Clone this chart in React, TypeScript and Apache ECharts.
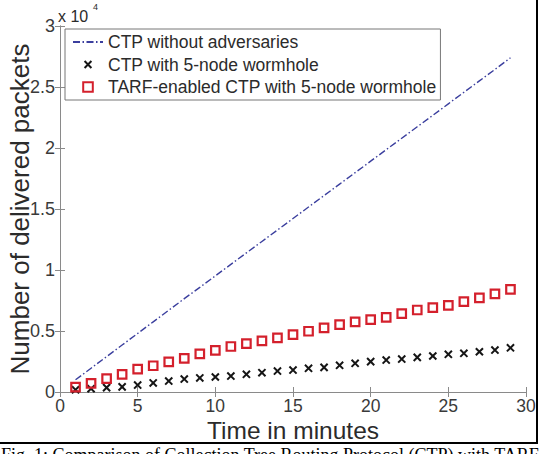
import React, { useEffect, useRef } from "react";
import * as echarts from "echarts";

// Time in minutes (x) for each sample
const minutes = [1, 2, 3, 4, 5, 6, 7, 8, 9, 10, 11, 12, 13, 14, 15, 16, 17, 18, 19, 20, 21, 22, 23, 24, 25, 26, 27, 28, 29];

// Delivered packets per configuration
const ctpNoAdversary = [1000, 1950, 2900, 3850, 4800, 5750, 6700, 7650, 8580, 9520, 10460, 11400, 12340, 13280, 14220, 15160, 16100, 17040, 17980, 18920, 19860, 20800, 21740, 22680, 23620, 24560, 25500, 26440, 27400];
const ctpWormhole = [180, 270, 360, 420, 570, 740, 900, 1060, 1150, 1230, 1310, 1450, 1580, 1720, 1800, 1940, 2020, 2190, 2350, 2490, 2620, 2700, 2840, 2950, 3090, 3170, 3300, 3440, 3620];
const tarfWormhole = [400, 700, 1090, 1440, 1870, 2150, 2470, 2750, 3130, 3410, 3730, 3970, 4190, 4430, 4700, 4980, 5250, 5520, 5740, 5940, 6120, 6420, 6720, 6910, 7100, 7400, 7720, 8050, 8420];

const seriesNames = [
  "CTP without adversaries",
  "CTP with 5-node wormhole",
  "TARF-enabled CTP with 5-node wormhole",
];

const xTicks = { min: 0, max: 30, interval: 5 };
const yTicks = { min: 0, max: 30000, interval: 5000 };
const yScaleLabel = "x 10";
const yScaleExp = "4";
const caption = "Fig. 1: Comparison of Collection Tree Routing Protocol (CTP) with TARF";

const FONT = "Liberation Sans, Arial, sans-serif";
// Cross glyph with a little empty margin so it sits smaller than its symbol box
const CROSS = "path://M-2,-2M0,0L10,10M10,0L0,10M12,12";

export default function App() {
  const ref = useRef<HTMLDivElement>(null);

  useEffect(() => {
    if (!ref.current) return;
    const chart = echarts.init(ref.current, undefined, { renderer: "svg" });
    const pair = (ys: number[]) => minutes.map((m, i) => [m, ys[i]]);
    const boxColor = "#8a8a8a";

    const inwardAxis = {
      axisLine: { show: true, lineStyle: { color: boxColor, width: 1 } },
      axisTick: { show: true, inside: true, length: 5, lineStyle: { color: boxColor } },
      splitLine: { show: false },
    };

    chart.setOption({
      animation: false,
      backgroundColor: "#fff",
      grid: { left: 60, right: 14, top: 26, bottom: 62, show: false, outerBoundsMode: "none", containLabel: false },
      xAxis: [
        {
          type: "value",
          ...xTicks,
          ...inwardAxis,
          name: "Time in minutes",
          nameLocation: "middle",
          nameGap: 27,
          nameMoveOverlap: false,
          nameTextStyle: { fontFamily: FONT, fontSize: 24.5, lineHeight: 22, color: "#2b2b2b" },
          axisLabel: { fontFamily: FONT, fontSize: 17.5, lineHeight: 14, color: "#3a3a3a", margin: 7 },
        },
        {
          type: "value",
          position: "top",
          ...xTicks,
          ...inwardAxis,
          axisLabel: { show: false },
        },
      ],
      yAxis: [
        {
          type: "value",
          ...yTicks,
          ...inwardAxis,
          name: "Number of delivered packets",
          nameLocation: "middle",
          nameGap: 27,
          nameMoveOverlap: false,
          nameTextStyle: { fontFamily: FONT, fontSize: 26, color: "#2b2b2b" },
          axisLabel: {
            fontFamily: FONT,
            fontSize: 18,
            color: "#3a3a3a",
            margin: 5,
            formatter: (v: number) => String(v / 10000),
          },
        },
        {
          type: "value",
          position: "right",
          ...yTicks,
          ...inwardAxis,
          axisLabel: { show: false },
        },
      ],
      legend: {
        orient: "vertical",
        left: 65,
        top: 29,
        padding: [4, 4, 4, 7],
        itemGap: 4.5,
        itemWidth: 30,
        itemHeight: 12,
        borderColor: "#777",
        borderWidth: 1,
        backgroundColor: "#fff",
        textStyle: { fontFamily: FONT, fontSize: 17.5, color: "#2b2b2b", lineHeight: 18 },
        data: [
          { name: seriesNames[0], itemStyle: { opacity: 0 } },
          { name: seriesNames[1] },
          { name: seriesNames[2] },
        ],
      },
      series: [
        {
          name: seriesNames[0],
          type: "line",
          data: pair(ctpNoAdversary),
          symbol: "none",
          lineStyle: { color: "#3b3f9e", width: 1.4, type: [7, 2.5, 1.5, 2.5] },
          itemStyle: { color: "rgba(0,0,0,0)" },
          z: 2,
        },
        {
          name: seriesNames[1],
          type: "line",
          data: pair(ctpWormhole),
          symbol: CROSS,
          symbolSize: 10,
          showSymbol: true,
          showAllSymbol: true,
          lineStyle: { opacity: 0, width: 0 },
          itemStyle: { color: "#151515", borderColor: "#151515", borderWidth: 2 },
          z: 3,
        },
        {
          name: seriesNames[2],
          type: "line",
          data: pair(tarfWormhole),
          symbol: "rect",
          symbolSize: 8.5,
          showSymbol: true,
          showAllSymbol: true,
          lineStyle: { opacity: 0, width: 0 },
          itemStyle: { color: "rgba(255,255,255,0)", borderColor: "#d4202c", borderWidth: 2.2 },
          z: 4,
        },
      ],
      graphic: [
        {
          type: "text",
          x: 58,
          y: 16,
          style: { text: yScaleLabel, fontFamily: FONT, fontSize: 16, fill: "#2b2b2b", verticalAlign: "middle" },
        },
        {
          type: "text",
          x: 93,
          y: 7,
          style: { text: yScaleExp, fontFamily: FONT, fontSize: 9, fill: "#2b2b2b", verticalAlign: "middle" },
        },
        {
          type: "line",
          shape: { x1: 537, y1: 0, x2: 537, y2: 443 },
          style: { stroke: "#000", lineWidth: 2 },
        },
        {
          type: "line",
          shape: { x1: 0, y1: 443, x2: 538, y2: 443 },
          style: { stroke: "#000", lineWidth: 2 },
        },
        {
          type: "text",
          x: 1,
          y: 446,
          style: {
            text: caption,
            fontFamily: "Liberation Serif, Times New Roman, serif",
            fontSize: 18,
            fill: "#000",
            verticalAlign: "top",
          },
        },
      ],
    });

    return () => chart.dispose();
  }, []);

  return (
    <div
      ref={ref}
      style={{ position: "fixed", left: 0, top: 0, width: 540, height: 454, overflow: "hidden" }}
    />
  );
}
